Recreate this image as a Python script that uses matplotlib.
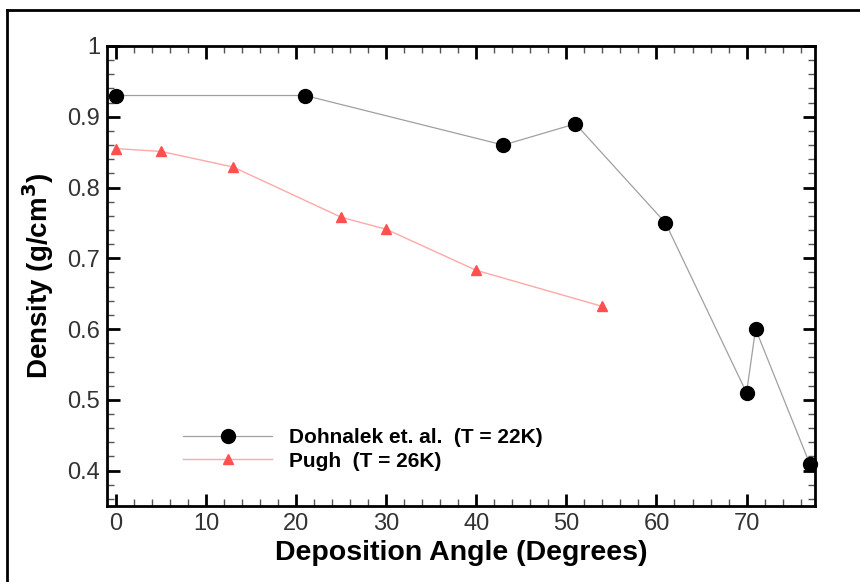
import matplotlib.pyplot as plt
from matplotlib.lines import Line2D
from matplotlib.ticker import MultipleLocator

plt.rcParams['font.family'] = ['Liberation Sans', 'DejaVu Sans']

# Dohnalek et. al. (T = 22K)
dohnalek_angle = [0, 21, 43, 51, 61, 70, 71, 77]
dohnalek_density = [0.93, 0.93, 0.86, 0.89, 0.75, 0.51, 0.60, 0.41]

# Pugh (T = 26K)
pugh_angle = [0, 5, 13, 25, 30, 40, 54]
pugh_density = [0.855, 0.851, 0.829, 0.758, 0.741, 0.683, 0.632]

fig = plt.figure(figsize=(8.6, 5.82), dpi=100)
ax = fig.add_axes([0.1244, 0.1306, 0.8233, 0.7904])

ax.plot(dohnalek_angle, dohnalek_density, color='#a0a0a0', lw=0.9,
        marker='o', ms=10, mfc='black', mec='black',
        label='Dohnalek et. al.  (T = 22K)', clip_on=False, zorder=3)
ax.plot(pugh_angle, pugh_density, color='#ffa8a8', lw=1.0,
        marker='^', ms=7, mfc='#ff5050', mec='#ff5050',
        label='Pugh  (T = 26K)', zorder=3)

ax.set_xlim(-1, 77.6)
ax.set_ylim(0.35, 1.0)
ax.xaxis.set_major_locator(MultipleLocator(10))
ax.xaxis.set_minor_locator(MultipleLocator(2))
ax.yaxis.set_minor_locator(MultipleLocator(0.02))
ax.set_yticks([0.4, 0.5, 0.6, 0.7, 0.8, 0.9, 1.0])
ax.set_yticklabels(['0.4', '0.5', '0.6', '0.7', '0.8', '0.9', '1'])

ax.tick_params(which='both', direction='in', top=True, right=True,
               labelsize=17, colors='black', labelcolor='#333333')
ax.tick_params(which='major', length=9, width=2, pad=5)
ax.tick_params(which='minor', length=5, width=1, color='#555555')
for s in ax.spines.values():
    s.set_linewidth(2)

ax.set_xlabel('Deposition Angle (Degrees)', fontsize=20.5, fontweight='bold', labelpad=4)
ax.set_ylabel('Density (g/cm$^\\mathbf{3}$)', fontsize=20, fontweight='bold', labelpad=8)

ax.legend(loc='lower left', bbox_to_anchor=(0.107, 0.077), frameon=False,
          prop={'weight': 'bold', 'size': 15}, handlelength=4.3,
          labelspacing=0.2, handletextpad=0.8, borderpad=0, borderaxespad=0)

# frame around figure (left and top edges visible in crop)
fig.add_artist(Line2D([0.0085, 0.0085], [0, 0.983], transform=fig.transFigure,
                      color='black', lw=2))
fig.add_artist(Line2D([0.0085, 1.0], [0.983, 0.983], transform=fig.transFigure,
                      color='black', lw=2))

fig.savefig('out.png', dpi=100)
